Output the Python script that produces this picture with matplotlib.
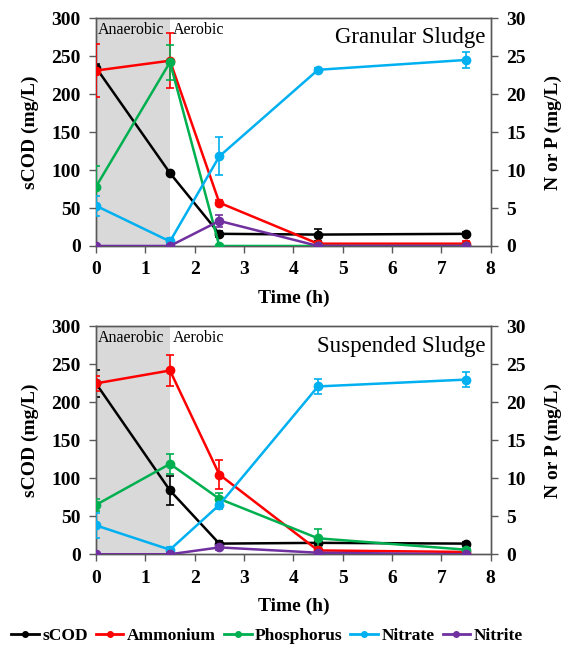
import matplotlib
matplotlib.use("Agg")
import matplotlib.pyplot as plt
from matplotlib.lines import Line2D

plt.rcParams['font.family'] = ['Liberation Serif', 'DejaVu Serif']

time_h = [0, 1.5, 2.5, 4.5, 7.5]

# Granular sludge
scod_g = [235, 96, 16, 15, 16]
scod_g_err = [4, 3, 4, 8, 2]
nh4_g = [23.1, 24.4, 5.7, 0.3, 0.3]
nh4_g_err = [3.5, 3.6, 0.3, 0.2, 0.3]
po4_g = [7.8, 24.2, 0.0, 0.0, 0.0]
po4_g_err = [2.7, 2.3, 0, 0, 0]
no3_g = [5.3, 0.6, 11.8, 23.2, 24.5]
no3_g_err = [1.3, 0.5, 2.5, 0.3, 1.0]
no2_g = [0, 0, 3.3, 0, 0]
no2_g_err = [0, 0, 0.8, 0, 0]

# Suspended sludge
scod_s = [225, 84, 14, 15, 14]
scod_s_err = [18, 19, 3, 2, 2]
nh4_s = [22.5, 24.2, 10.5, 0.5, 0.3]
nh4_s_err = [1.0, 2.1, 1.9, 0.2, 0.2]
po4_s = [6.5, 11.9, 7.3, 2.1, 0.6]
po4_s_err = [0.8, 1.3, 0.7, 1.2, 0.2]
no3_s = [3.8, 0.6, 6.5, 22.1, 23.0]
no3_s_err = [1.6, 0.4, 0.5, 1.0, 1.0]
no2_s = [0, 0, 0.9, 0.2, 0]
no2_s_err = [0, 0, 0.3, 0.1, 0]

series_names = ['sCOD', 'Ammonium', 'Phosphorus', 'Nitrate', 'Nitrite']
colors = ['#000000', '#ff0000', '#00b050', '#00b0f0', '#7030a0']
panel_titles = ['Granular Sludge', 'Suspended Sludge']
anaerobic_end = 1.5

panels = [
    (scod_g, scod_g_err, [(nh4_g, nh4_g_err), (po4_g, po4_g_err), (no3_g, no3_g_err), (no2_g, no2_g_err)]),
    (scod_s, scod_s_err, [(nh4_s, nh4_s_err), (po4_s, po4_s_err), (no3_s, no3_s_err), (no2_s, no2_s_err)]),
]

fig = plt.figure(figsize=(5.78, 6.49), dpi=100)
spine_col = '#595959'
positions = [[0.166, 0.621, 0.683, 0.351], [0.166, 0.146, 0.683, 0.351]]

for pos, (scod, scod_err, right_series), title in zip(positions, panels, panel_titles):
    ax = fig.add_axes(pos)
    ax2 = ax.twinx()
    ax.axvspan(0, anaerobic_end, color='#d9d9d9', lw=0, zorder=0)

    ax.errorbar(time_h, scod, yerr=scod_err, color=colors[0], lw=1.8, marker='o',
                ms=6, capsize=3, elinewidth=1.2, capthick=1.2, zorder=5)
    for (vals, errs), c in zip(right_series, colors[1:]):
        ax2.errorbar(time_h, vals, yerr=errs, color=c, lw=1.8, marker='o',
                     ms=6, capsize=3, elinewidth=1.2, capthick=1.2, zorder=3)

    ax.set_xlim(0, 8)
    ax.set_ylim(0, 300)
    ax2.set_ylim(0, 30)
    ax.set_xticks(range(0, 9))
    ax.set_yticks(range(0, 301, 50))
    ax2.set_yticks(range(0, 31, 5))
    for a in (ax, ax2):
        for s in a.spines.values():
            s.set_color(spine_col)
            s.set_linewidth(1.0)
        a.tick_params(direction='out', length=5, color=spine_col, width=1.0, labelsize=14, pad=6)
        for lab in a.get_xticklabels() + a.get_yticklabels():
            lab.set_fontweight('bold')
    ax.set_xlabel('Time (h)', fontsize=14, fontweight='bold', labelpad=8)
    ax.set_ylabel('sCOD (mg/L)', fontsize=14, fontweight='bold', labelpad=9)
    ax2.set_ylabel('N or P (mg/L)', fontsize=14, fontweight='bold', labelpad=14)

    ax.text(0.04, 295, 'Anaerobic', fontsize=11.5, va='top', ha='left')
    ax.text(anaerobic_end + 0.05, 295, 'Aerobic', fontsize=11.5, va='top', ha='left')
    ax.text(7.9, 288, title, fontsize=16.5, va='top', ha='right')

handles = [Line2D([0], [0], color=c, lw=2, marker='o', ms=4) for c in colors]
fig.legend(handles, series_names, loc='center', bbox_to_anchor=(0.462, 0.02),
           ncol=5, frameon=False, handlelength=1.6, handletextpad=0.2,
           columnspacing=0.45, prop={'weight': 'bold', 'size': 12.5})

fig.savefig('out.png', dpi=100)
